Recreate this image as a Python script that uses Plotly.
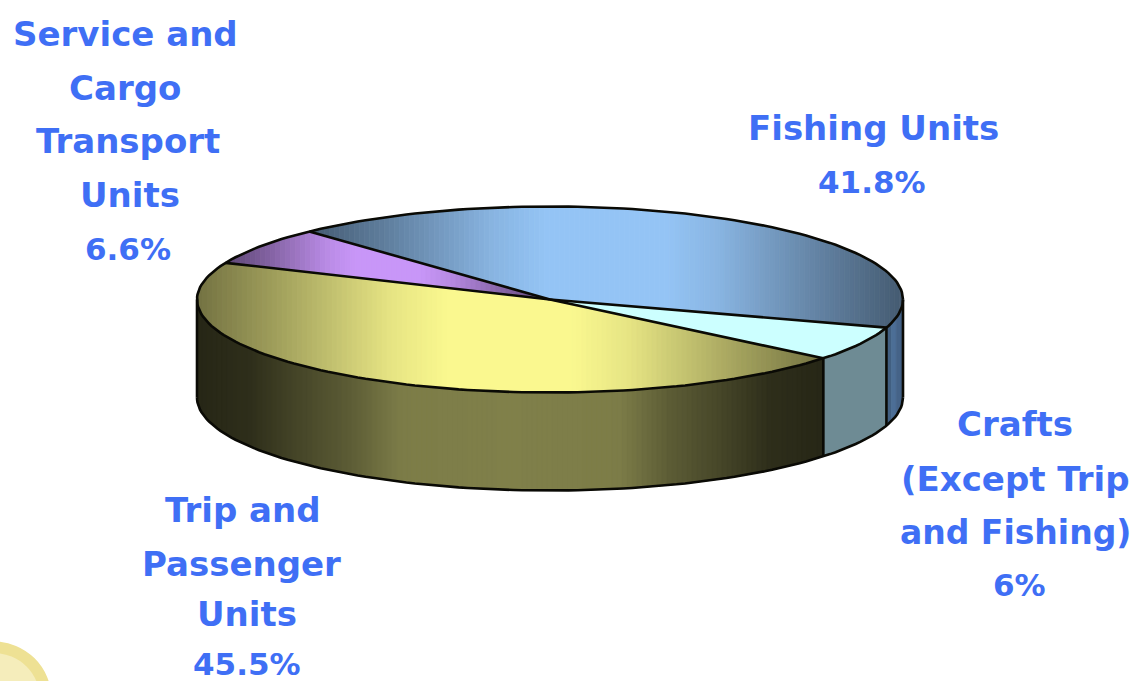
import math
import plotly.graph_objects as go

# ---- data ----
categories = ["Fishing Units", "Crafts (Except Trip and Fishing)", "Trip and Passenger Units", "Service and Cargo Transport Units"]
values = [41.8, 6, 45.5, 6.6]
label_lines = [["Fishing Units"], ["Crafts", "(Except Trip", "and Fishing)"], ["Trip and", "Passenger", "Units"], ["Service and", "Cargo", "Transport", "Units"]]

# ---- styles and layout ----
W, H = 1132, 681
CX, CY, RX, RY, DEPTH = 550, 299.5, 353, 93, 98
START_ANGLE = 133
TOP_COL = ["#94C4F5", "#CCFFFF", "#FAF88F", "#C896F8"]
SIDE_COL = ["#4E7099", "#6E8B94", "#80804A", "#60487C"]
TOP_D = [0, 0.2, 0.38, 0.72, 1]
TOP_V = [1, 1, 0.92, 0.66, 0.46]
SIDE_D = [0, 0.35, 0.51, 0.67, 0.83, 1]
SIDE_V = [1, 0.97, 0.72, 0.55, 0.36, 0.3]
LABEL_POS = [[(873, 128), (872, 182)],
             [(1015, 424), (1015, 479), (1015, 532), (1019, 585)],
             [(243, 510), (241, 564), (247, 614), (247, 664)],
             [(125, 34), (125, 88), (128, 141), (130, 195), (128, 249)]]
TEXT_COL = "#3F6FF5"
WORD_SIZE, VALUE_SIZE, TIGHT_SIZE = 34, 31, 33
BAND = 5


def px(t):
    return CX + RX * math.cos(math.radians(t))


def py(t):
    return CY - RY * math.sin(math.radians(t))


def arc(t0, t1, dy=0):
    n = max(2, int(abs(t1 - t0) / 1.5) + 1)
    ts = [t0 + (t1 - t0) * i / (n - 1) for i in range(n)]
    return [(px(t), py(t) + dy) for t in ts]


def clip(poly, x, keep_right):
    out = []
    for i, a in enumerate(poly):
        b = poly[(i + 1) % len(poly)]
        ina = a[0] >= x if keep_right else a[0] <= x
        inb = b[0] >= x if keep_right else b[0] <= x
        if ina:
            out.append(a)
        if ina != inb:
            s = (x - a[0]) / (b[0] - a[0])
            out.append((x, a[1] + s * (b[1] - a[1])))
    return out


def interp(d, xs, ys):
    for i in range(len(xs) - 1):
        if d <= xs[i + 1]:
            s = (d - xs[i]) / (xs[i + 1] - xs[i])
            return ys[i] + s * (ys[i + 1] - ys[i])
    return ys[-1]


def shade(hexcol, f):
    r, g, b = (int(hexcol[i:i + 2], 16) for i in (1, 3, 5))
    return f"rgb({r * f:.0f},{g * f:.0f},{b * f:.0f})"


fig = go.Figure()


def add_poly(poly, color, width=0.8):
    if len(poly) < 3:
        return
    xs, ys = zip(*(poly + [poly[0]]))
    fig.add_trace(go.Scatter(x=xs, y=ys, mode="lines", fill="toself", fillcolor=color,
                             line=dict(color=color, width=width), hoverinfo="skip", showlegend=False))


def add_bands(poly, base, dtab, vtab):
    xmin = min(p[0] for p in poly)
    xmax = max(p[0] for p in poly)
    x = xmin
    while x < xmax:
        x2 = min(x + BAND, xmax)
        part = clip(clip(poly, x, True), x2, False)
        d = abs(2 * ((x + x2) / 2 - xmin) / (xmax - xmin) - 1)
        add_poly(part, shade(base, interp(d, dtab, vtab)))
        x = x2


def add_line(pts, width=2.6):
    xs, ys = zip(*pts)
    fig.add_trace(go.Scatter(x=xs, y=ys, mode="lines", line=dict(color="#0A0A05", width=width),
                             hoverinfo="skip", showlegend=False))


total = sum(values)
angles = [START_ANGLE]
for v in values:
    angles.append(angles[-1] - 360 * v / total)

# sides
for i, v in enumerate(values):
    a0 = min(angles[i], 0)
    a1 = max(angles[i + 1], -180)
    if a0 <= a1:
        continue
    poly = arc(a0, a1) + arc(a1, a0, DEPTH)
    if i == 1:
        add_poly(poly, SIDE_COL[i])
    elif i == 0:
        add_bands(poly, SIDE_COL[i], [0, 1], [1, 0.78])
    else:
        add_bands(poly, SIDE_COL[i], SIDE_D, SIDE_V)

# top face
for i, v in enumerate(values):
    poly = [(CX, CY)] + arc(angles[i], angles[i + 1])
    if i == 1:
        add_poly(poly, TOP_COL[i])
    else:
        add_bands(poly, TOP_COL[i], TOP_D, TOP_V)

# outlines
add_line(arc(0, 360))
add_line(arc(0, -180, DEPTH))
for t in (0, -180):
    add_line([(px(t), py(t)), (px(t), py(t) + DEPTH)])
for a in angles[:-1]:
    add_line([(CX, CY), (px(a), py(a))])
    if -180 < a < 0:
        add_line([(px(a), py(a)), (px(a), py(a) + DEPTH)])

# labels
annotations = []
for i, v in enumerate(values):
    lines = label_lines[i] + [f"{v:g}%"]
    for j, (text, (x, y)) in enumerate(zip(lines, LABEL_POS[i])):
        size = VALUE_SIZE if j == len(lines) - 1 else WORD_SIZE
        if text == "and Fishing)":
            size = TIGHT_SIZE
        annotations.append(dict(x=x, y=y, xref="x", yref="y", text=text, showarrow=False,
                                xanchor="center", yanchor="middle",
                                font=dict(family="DejaVu Sans", size=size, color=TEXT_COL, weight="bold")))

fig.update_layout(
    width=W, height=H, margin=dict(l=0, r=0, t=0, b=0),
    paper_bgcolor="white", plot_bgcolor="white", showlegend=False,
    xaxis=dict(range=[0, W], visible=False, fixedrange=True),
    yaxis=dict(range=[H, 0], visible=False, fixedrange=True),
    annotations=annotations,
    shapes=[
        dict(type="circle", xref="x", yref="y", x0=-63.5, x1=51.5, y0=641.5, y1=756.5,
             fillcolor="#EEE194", line=dict(width=0), layer="below"),
        dict(type="circle", xref="x", yref="y", x0=-52, x1=40, y0=653, y1=745,
             fillcolor="#F5EDBB", line=dict(width=0), layer="below"),
    ],
)
fig.write_html("out.html", config={"displayModeBar": False},
               post_script="document.body.style.margin='0';document.body.style.overflow='hidden';")
